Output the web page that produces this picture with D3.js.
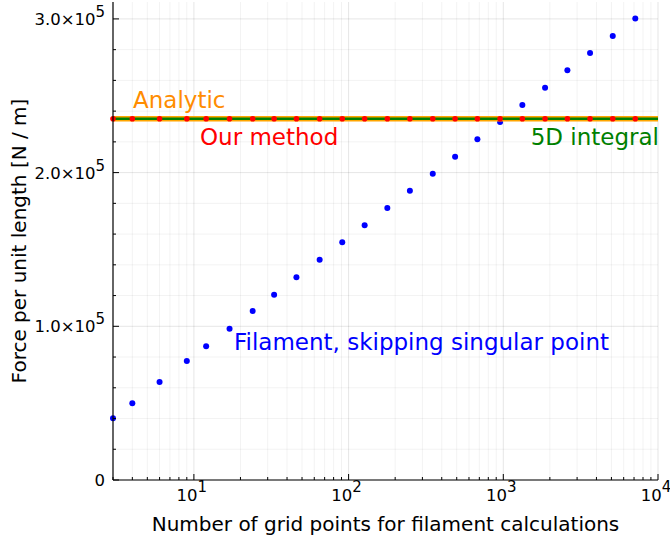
<!DOCTYPE html>
<html>
<head>
<meta charset="utf-8">
<script src="https://cdn.jsdelivr.net/npm/d3@7/dist/d3.min.js"></script>
<style>
  body { margin: 0; background: #fff; }
  text { font-family: "DejaVu Sans", sans-serif; }
</style>
</head>
<body>
<svg id="chart" width="670" height="542"></svg>
<script>
// values
const gridPoints = [3, 4, 6, 9, 12, 17, 24, 33, 46, 65, 91, 127, 178, 249, 350, 488, 680, 953, 1328, 1862, 2596, 3637, 5099, 7131];
const filamentForce = [40150, 49910, 63770, 77440, 87000, 98460, 109980, 120580, 131900, 143360, 154680, 165740,
  177000, 188260, 199320, 210390, 221710, 232970, 244030, 255290, 266610, 277870, 288930, 300190];
const ourMethodForce = [235000, 235000, 235000, 235000, 235000, 235000, 235000, 235000, 235000, 235000, 235000, 235000,
  235000, 235000, 235000, 235000, 235000, 235000, 235000, 235000, 235000, 235000, 235000, 235000];
const analyticForce = 235000;
const integral5DForce = 235000;
const xTicks = [10, 100, 1000, 10000];
const yTicks = [0, 100000, 200000, 300000];

const width = 670, height = 542;
const margin = { top: 2, right: 12, bottom: 62, left: 113 };

const svg = d3.select("#chart");

const x = d3.scaleLog()
  .domain([3, 10000])
  .range([margin.left, width - margin.right]);

const y = d3.scaleLinear()
  .domain([0, 311000])
  .range([height - margin.bottom, margin.top]);

// grid
const xMinor = [];
for (let k = 0; k < 4; k++) {
  for (let m = 2; m <= 9; m++) {
    const v = m * Math.pow(10, k);
    if (v >= 3 && v < 10000) xMinor.push(v);
  }
}
const yMinor = d3.range(0, 311000, 20000).filter(v => v % 100000 !== 0);

const grid = svg.append("g").attr("class", "grid");
grid.selectAll(".gx-minor").data(xMinor).join("line")
  .attr("x1", d => x(d)).attr("x2", d => x(d))
  .attr("y1", y.range()[0]).attr("y2", y.range()[1])
  .attr("stroke", "#000").attr("stroke-opacity", 0.05);
grid.selectAll(".gx-major").data(xTicks).join("line")
  .attr("x1", d => x(d)).attr("x2", d => x(d))
  .attr("y1", y.range()[0]).attr("y2", y.range()[1])
  .attr("stroke", "#000").attr("stroke-opacity", 0.1);
grid.selectAll(".gy-minor").data(yMinor).join("line")
  .attr("x1", x.range()[0]).attr("x2", x.range()[1])
  .attr("y1", d => y(d)).attr("y2", d => y(d))
  .attr("stroke", "#000").attr("stroke-opacity", 0.05);
grid.selectAll(".gy-major").data(yTicks).join("line")
  .attr("x1", x.range()[0]).attr("x2", x.range()[1])
  .attr("y1", d => y(d)).attr("y2", d => y(d))
  .attr("stroke", "#000").attr("stroke-opacity", 0.1);

// data
const plot = svg.append("g").attr("class", "plot-area");

plot.selectAll(".filament").data(gridPoints).join("circle")
  .attr("class", "filament")
  .attr("cx", d => x(d))
  .attr("cy", (d, i) => y(filamentForce[i]))
  .attr("r", 3)
  .attr("fill", "#0000ff");

plot.append("line")
  .attr("x1", x(3)).attr("x2", x(10000))
  .attr("y1", y(analyticForce)).attr("y2", y(analyticForce))
  .attr("stroke", "#ffa500").attr("stroke-width", 5.5);

plot.append("line")
  .attr("x1", x(3)).attr("x2", x(10000))
  .attr("y1", y(integral5DForce)).attr("y2", y(integral5DForce))
  .attr("stroke", "#008000").attr("stroke-width", 2.5);

plot.selectAll(".ours").data(gridPoints).join("circle")
  .attr("class", "ours")
  .attr("cx", d => x(d))
  .attr("cy", (d, i) => y(ourMethodForce[i]))
  .attr("r", 2.8)
  .attr("fill", "#ff0000");

// axes
const axes = svg.append("g");
axes.append("line")
  .attr("x1", x.range()[0]).attr("x2", x.range()[0])
  .attr("y1", y.range()[0]).attr("y2", y.range()[1])
  .attr("stroke", "#000").attr("stroke-width", 1.2);
axes.append("line")
  .attr("x1", x.range()[0]).attr("x2", x.range()[1])
  .attr("y1", y.range()[0]).attr("y2", y.range()[0])
  .attr("stroke", "#000").attr("stroke-width", 1.2);

// ticks (inward)
axes.selectAll(".ty-major").data(yTicks).join("line")
  .attr("x1", x.range()[0]).attr("x2", x.range()[0] + 6)
  .attr("y1", d => y(d)).attr("y2", d => y(d))
  .attr("stroke", "#000");
axes.selectAll(".ty-minor").data(yMinor).join("line")
  .attr("x1", x.range()[0]).attr("x2", x.range()[0] + 3)
  .attr("y1", d => y(d)).attr("y2", d => y(d))
  .attr("stroke", "#000");
axes.selectAll(".tx-major").data(xTicks).join("line")
  .attr("x1", d => x(d)).attr("x2", d => x(d))
  .attr("y1", y.range()[0]).attr("y2", y.range()[0] - 6)
  .attr("stroke", "#000");
axes.selectAll(".tx-minor").data(xMinor).join("line")
  .attr("x1", d => x(d)).attr("x2", d => x(d))
  .attr("y1", y.range()[0]).attr("y2", y.range()[0] - 3)
  .attr("stroke", "#000");

// tick labels
const yLab = axes.selectAll(".ylab").data(yTicks).join("text")
  .attr("x", x.range()[0] - 8)
  .attr("y", d => y(d) + 6)
  .attr("text-anchor", "end")
  .attr("font-size", 16.5)
  .attr("fill", "#000");
yLab.each(function (d) {
  const t = d3.select(this);
  if (d === 0) { t.text("0"); return; }
  t.append("tspan").text((d / 1e5).toFixed(1) + "\u00d710");
  t.append("tspan").attr("dy", -8).attr("font-size", 15).text("5");
});

const xLab = axes.selectAll(".xlab").data(xTicks).join("text")
  .attr("x", d => x(d) - 2)
  .attr("y", y.range()[0] + 21)
  .attr("text-anchor", "middle")
  .attr("font-size", 16.5)
  .attr("fill", "#000");
xLab.each(function (d) {
  const t = d3.select(this);
  t.append("tspan").text("10");
  t.append("tspan").attr("dy", -9).attr("font-size", 15).text(Math.round(Math.log10(d)));
});

// axis titles
svg.append("text")
  .attr("x", (x.range()[0] + x.range()[1]) / 2)
  .attr("y", 531)
  .attr("text-anchor", "middle")
  .attr("font-size", 20)
  .text("Number of grid points for filament calculations");

svg.append("text")
  .attr("transform", `translate(26,${(y.range()[0] + y.range()[1]) / 2}) rotate(-90)`)
  .attr("text-anchor", "middle")
  .attr("font-size", 20)
  .text("Force per unit length [N / m]");

// annotations
const notes = svg.append("g").attr("font-size", 23);
notes.append("text").attr("x", 133).attr("y", 108).attr("fill", "#ff8c00").text("Analytic");
notes.append("text").attr("x", 200).attr("y", 145).attr("fill", "#ff0000").text("Our method");
notes.append("text").attr("x", 659).attr("y", 145).attr("text-anchor", "end").attr("fill", "#008000").text("5D integral");
notes.append("text").attr("x", 234).attr("y", 350).attr("fill", "#0000ff").text("Filament, skipping singular point");
</script>
</body>
</html>
